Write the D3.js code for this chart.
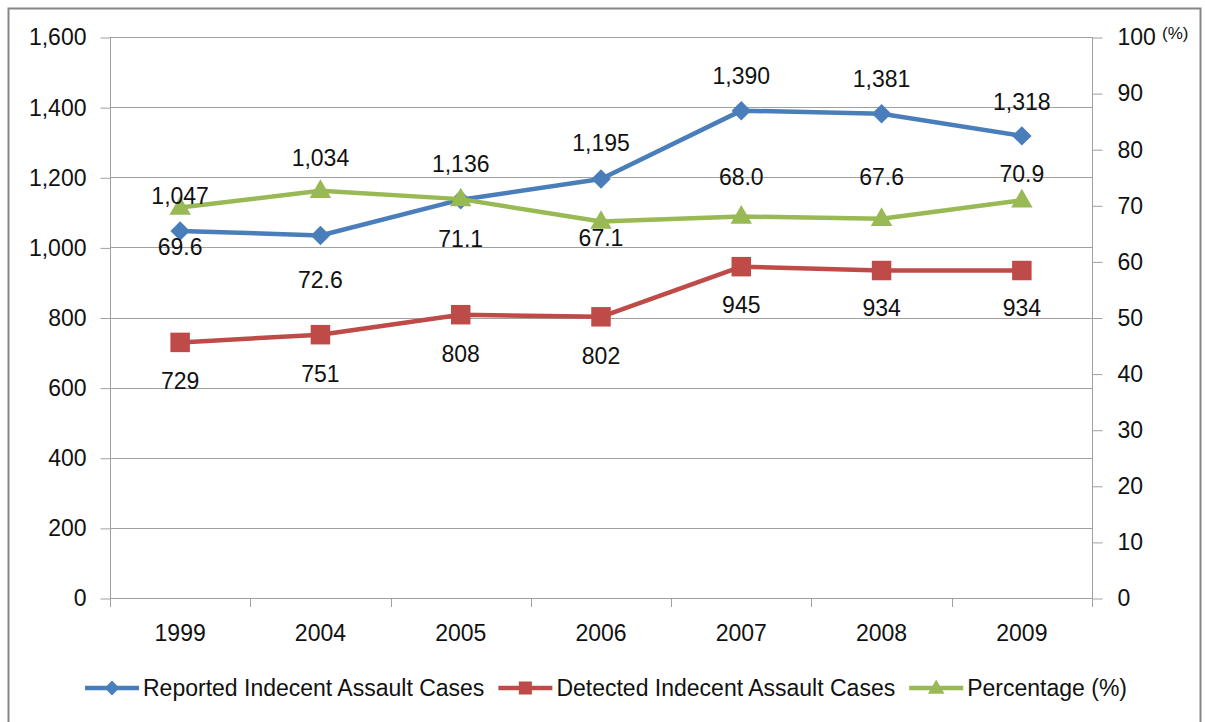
<!DOCTYPE html>
<html>
<head>
<meta charset="utf-8">
<script src="https://cdn.jsdelivr.net/npm/d3@7"></script>
<style>
  html, body { margin: 0; padding: 0; background: #fff; }
  svg text { font-family: "Liberation Sans", Arial, sans-serif; fill: #111; }
</style>
</head>
<body>
<svg id="chart" width="1205" height="722"></svg>
<script>
// ---- data ----
const categories = ["1999", "2004", "2005", "2006", "2007", "2008", "2009"];
const reported = [1047, 1034, 1136, 1195, 1390, 1381, 1318];
const detected = [729, 751, 808, 802, 945, 934, 934];
const percentage = [69.6, 72.6, 71.1, 67.1, 68.0, 67.6, 70.9];
const leftTicks = [0, 200, 400, 600, 800, 1000, 1200, 1400, 1600];
const rightTicks = [0, 10, 20, 30, 40, 50, 60, 70, 80, 90, 100];
const seriesNames = ["Reported Indecent Assault Cases", "Detected Indecent Assault Cases", "Percentage (%)"];

// label placement (baseline offset from marker, px) – styling, not data
const reportedLabelDy = [-27, -69, -28, -28, -27, -27, -26];
const detectedLabelDy = [47, 47, 47, 47, 46, 45, 45];
const percentLabelDy = [47, 97, 48, 24, -32, -34, -18];

const colors = { blue: "#4a7ebb", red: "#be4b48", green: "#98b954" };
const FS = 23;

const svg = d3.select("#chart");

// outer border
svg.append("rect")
  .attr("x", 8.5).attr("y", 8.5).attr("width", 1192).attr("height", 730)
  .attr("fill", "#fff").attr("stroke", "#868686").attr("stroke-width", 2);

const plotL = 110, plotR = 1092, plotT = 37, plotB = 598;

const x = d3.scaleBand().domain(categories).range([plotL, plotR]).paddingInner(0).paddingOuter(0);
const cx = d => x(d) + x.bandwidth() / 2;
const yL = d3.scaleLinear().domain([0, 1600]).range([plotB, plotT]);
const yR = d3.scaleLinear().domain([0, 100]).range([plotB, plotT]);

const gridColor = "#a0a0a0";

// gridlines
svg.append("g").selectAll("line").data(leftTicks).join("line")
  .attr("x1", plotL).attr("x2", plotR)
  .attr("y1", d => Math.round(yL(d)) + 0.5).attr("y2", d => Math.round(yL(d)) + 0.5)
  .attr("stroke", gridColor).attr("stroke-width", 1);

// left axis
const gL = svg.append("g").attr("transform", `translate(${plotL + 0.5},0.5)`)
  .call(d3.axisLeft(yL).tickValues(leftTicks).tickSize(10).tickPadding(14).tickFormat(d3.format(",")));
gL.select(".domain").remove();
gL.selectAll("line").attr("stroke", gridColor);
gL.selectAll("text").attr("font-size", FS).attr("font-family", null).attr("fill", "#111");
svg.append("line").attr("x1", plotL + 0.5).attr("x2", plotL + 0.5)
  .attr("y1", plotT).attr("y2", plotB + 9).attr("stroke", gridColor);

// right axis
const gR = svg.append("g").attr("transform", `translate(${plotR + 0.5},0.5)`)
  .call(d3.axisRight(yR).tickValues(rightTicks).tickSize(10).tickPadding(15));
gR.select(".domain").remove();
gR.selectAll("line").attr("stroke", gridColor);
gR.selectAll("text").attr("font-size", FS).attr("font-family", null).attr("fill", "#111");
svg.append("line").attr("x1", plotR + 0.5).attr("x2", plotR + 0.5)
  .attr("y1", plotT).attr("y2", plotB + 9).attr("stroke", gridColor);
svg.append("text").attr("x", 1162).attr("y", 39).attr("font-size", 17).text("(%)");

// bottom axis
const gB = svg.append("g").attr("transform", `translate(0,${plotB})`)
  .call(d3.axisBottom(x).tickSize(0).tickPadding(27));
gB.select(".domain").remove();
gB.selectAll("text").attr("font-size", FS).attr("font-family", null).attr("fill", "#111");
const bounds = d3.range(categories.length + 1).map(i => plotL + i * x.step());
svg.append("g").selectAll("line").data(bounds).join("line")
  .attr("x1", d => Math.round(d) + 0.5).attr("x2", d => Math.round(d) + 0.5)
  .attr("y1", plotB).attr("y2", plotB + 9).attr("stroke", gridColor);

// series
const series = [
  { name: seriesNames[0], values: reported, y: yL, color: colors.blue, symbol: "diamond", dy: reportedLabelDy, fmt: d3.format(",") },
  { name: seriesNames[1], values: detected, y: yL, color: colors.red, symbol: "square", dy: detectedLabelDy, fmt: d3.format(",") },
  { name: seriesNames[2], values: percentage, y: yR, color: colors.green, symbol: "triangle", dy: percentLabelDy, fmt: d3.format(".1f") }
];

function symbolPath(kind, big) {
  if (kind === "diamond") return d3.symbol(d3.symbolSquare, big ? 190 : 110)();
  if (kind === "square") return d3.symbol(d3.symbolSquare, big ? 380 : 170)();
  return d3.symbol(d3.symbolTriangle, big ? 200 : 120)();
}
function symbolTransform(kind, px, py) {
  if (kind === "diamond") return `translate(${px},${py}) rotate(45)`;
  if (kind === "triangle") return `translate(${px},${py + 1})`;
  return `translate(${px},${py})`;
}

series.forEach(s => {
  const line = d3.line().x((d, i) => cx(categories[i])).y(d => s.y(d));
  const g = svg.append("g");
  g.append("path").datum(s.values).attr("d", line)
    .attr("fill", "none").attr("stroke", s.color).attr("stroke-width", 4.5).attr("stroke-linejoin", "round");
  g.selectAll("path.m").data(s.values).join("path").attr("class", "m")
    .attr("d", symbolPath(s.symbol, true))
    .attr("transform", (d, i) => symbolTransform(s.symbol, cx(categories[i]), s.y(d)))
    .attr("fill", s.color);
});

// labels
series.forEach(s => {
  svg.append("g").selectAll("text").data(s.values).join("text")
    .attr("x", (d, i) => cx(categories[i]))
    .attr("y", (d, i) => s.y(d) + s.dy[i])
    .attr("text-anchor", "middle").attr("font-size", FS)
    .text(d => s.fmt(d));
});

// legend
const legend = svg.append("g");
const items = [];
let cursor = 0;
series.forEach((s, i) => {
  const it = legend.append("g");
  it.append("line").attr("x1", 0).attr("x2", 54).attr("y1", 0).attr("y2", 0)
    .attr("stroke", s.color).attr("stroke-width", 4.5);
  it.append("path").attr("d", symbolPath(s.symbol, false))
    .attr("transform", symbolTransform(s.symbol, 27, 0)).attr("fill", s.color);
  const t = it.append("text").attr("x", 58).attr("y", 8).attr("font-size", FS).text(s.name);
  const w = 58 + t.node().getComputedTextLength();
  items.push({ it, start: cursor });
  cursor += w + 14;
});
const total = cursor - 14;
const lx0 = 606 - total / 2;
items.forEach(o => o.it.attr("transform", `translate(${lx0 + o.start},688)`));
</script>
</body>
</html>
